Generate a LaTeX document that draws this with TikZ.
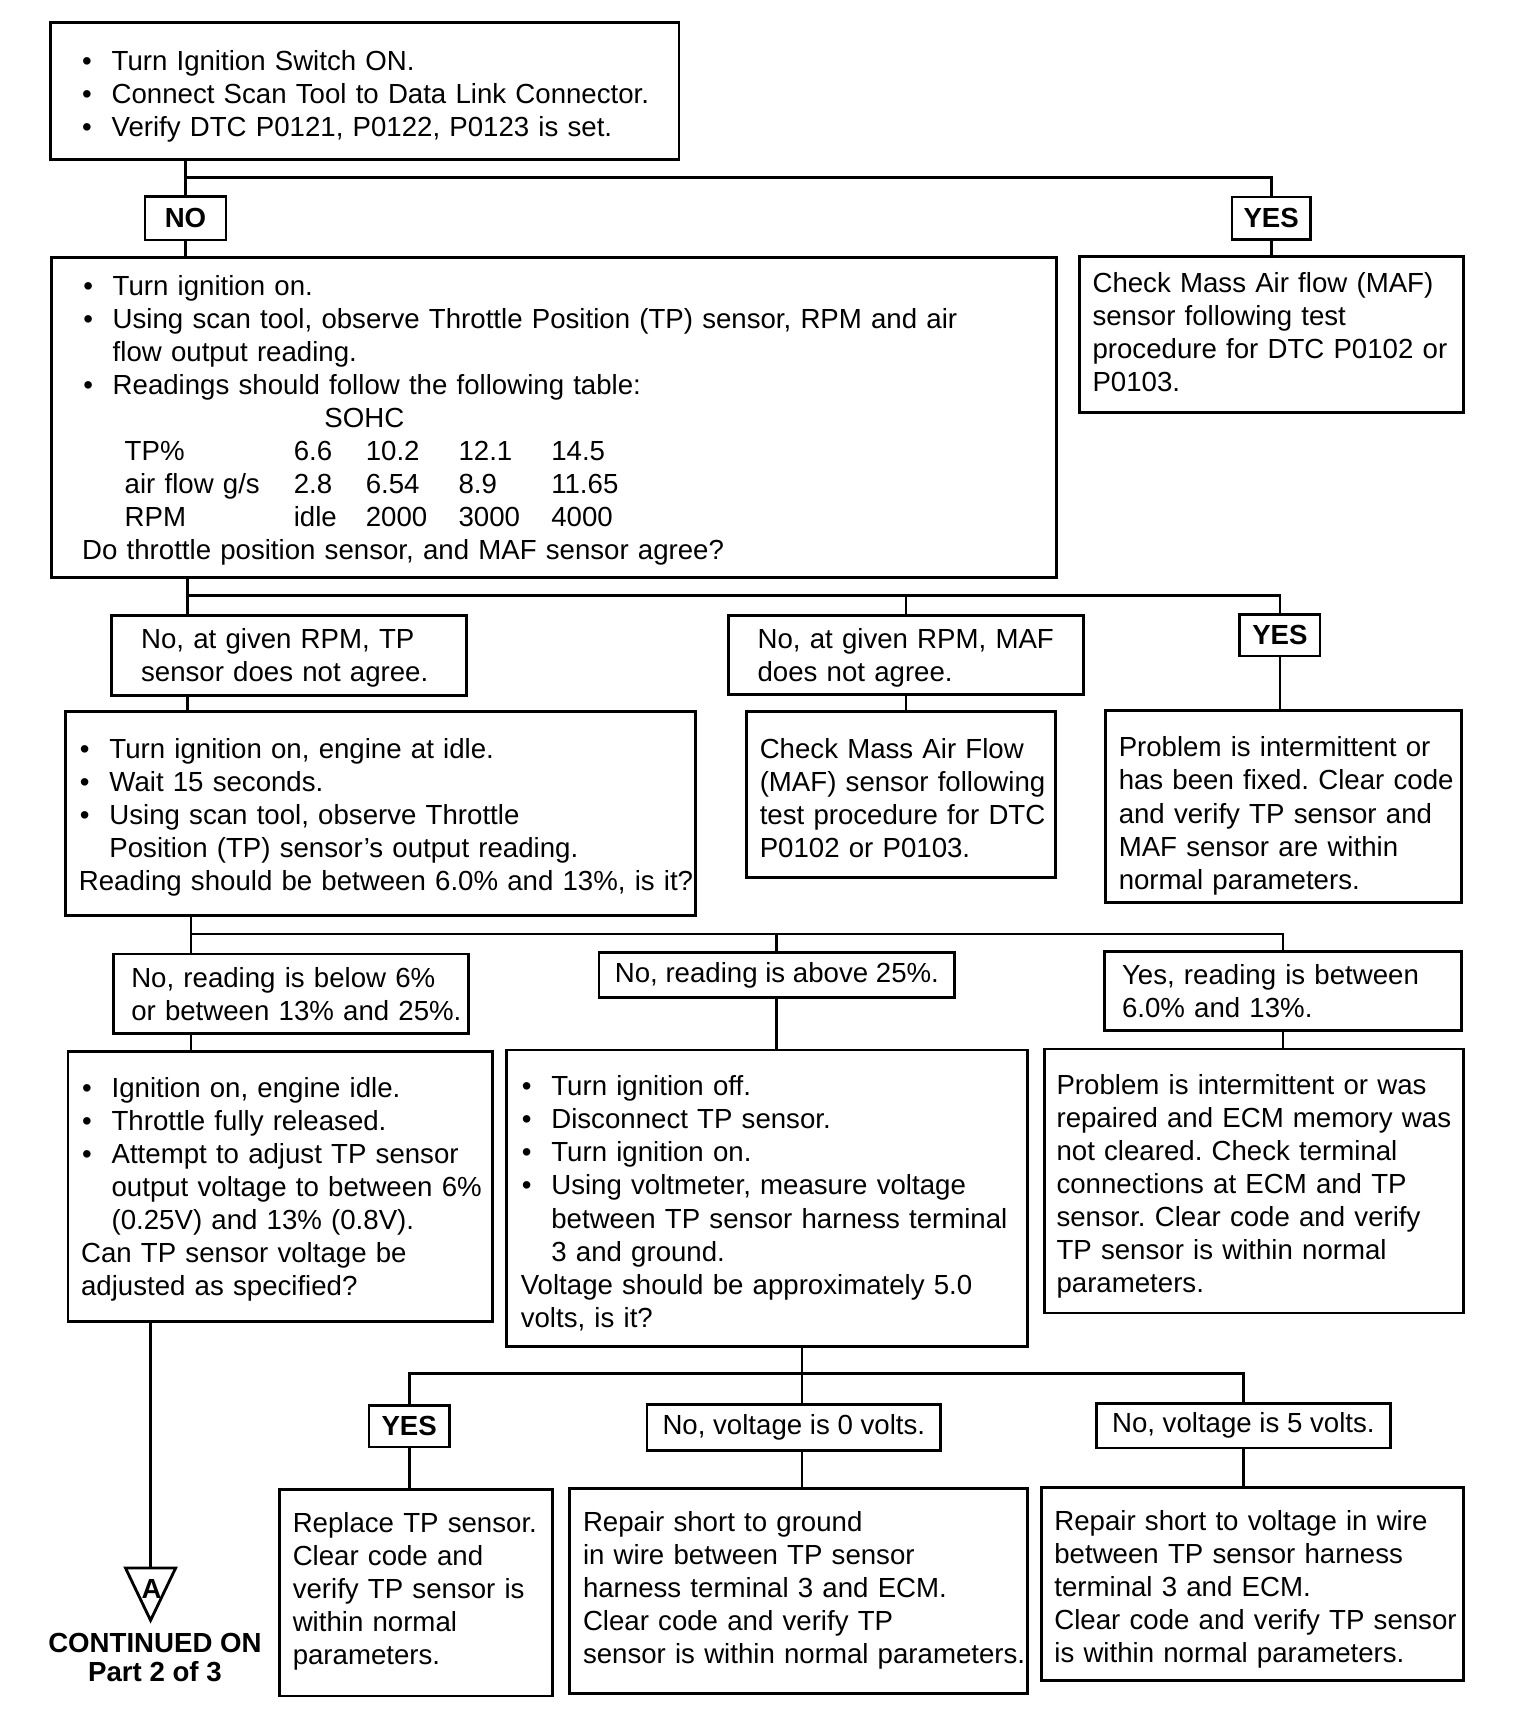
\documentclass[tikz,border=0pt]{standalone}
\usepackage{fontspec}
\setmainfont{Liberation Sans}
\frenchspacing
\newcommand\chartfont{\fontsize{12.66}{15.15}\selectfont}
\newcommand\itm{\makebox[14pt][l]{\hspace{0.5pt}\textbullet}}
\newcommand\padded[3][0pt]{\parindent=0pt\leftskip=#2\rightskip=-30pt plus 1fil\relax
  \ifdim#1>0pt \edef\toph{\the\dimexpr12pt+#1\relax}\def\botd{3pt}%
  \else\def\toph{12pt}\edef\botd{\the\dimexpr3pt-#1\relax}\fi
  \rule{0pt}{\toph}#3\rule[-\botd]{0pt}{\botd}\par}
\newcommand\tprow[5]{\hspace*{19.5pt}\makebox[77.5pt][l]{#1}\makebox[33pt][l]{#2}\makebox[42.5pt][l]{#3}\makebox[42.5pt][l]{#4}#5}
\tikzset{
  box/.style={draw, line width=1.3pt, anchor=north west, inner sep=0pt, align=left, font=\chartfont},
  tag/.style={draw, line width=1.1pt, inner sep=0pt, font=\chartfont\bfseries},
  plain/.style={draw, line width=1.3pt, inner sep=0pt, font=\chartfont},
  link/.style={line width=1.3pt},
}
\begin{document}
\begin{tikzpicture}[x=0.5pt, y=-0.5pt]
      \useasboundingbox (0,0) rectangle (1407.5,1569);
      \node[box, text width=288pt, minimum height=63pt] (start) at (45,19)
        {\padded[2.5pt]{14pt}{\itm Turn Ignition Switch ON.\\
         \itm Connect Scan Tool to Data Link Connector.\\
         \itm Verify DTC P0121, P0122, P0123 is set.}};
      \node[tag, minimum width=37pt, minimum height=20pt] (no1) at (170,200) {NO};
      \node[tag, minimum width=36pt, minimum height=19.5pt] (yes1) at (1165,200) {YES};
      \node[box, text width=460.5pt, minimum height=146.5pt] (tpbox) at (46,235)
        {\padded{14pt}{\itm Turn ignition on.\\
         \itm Using scan tool, observe Throttle Position (TP) sensor, RPM and air\\
         \hspace*{14pt}flow output reading.\\
         \itm Readings should follow the following table:\\
         \hspace*{111pt}SOHC\\
         \tprow{TP\%}{6.6}{10.2}{12.1}{14.5}\\
         \tprow{air flow g/s}{2.8}{6.54}{8.9}{11.65}\\
         \tprow{RPM}{idle}{2000}{3000}{4000}\\
         Do throttle position sensor, and MAF sensor agree?}};
      \node[box, text width=176pt, minimum height=71.5pt] (maf1) at (988,234)
        {\padded[-2pt]{6pt}{Check Mass Air flow (MAF)\\
         sensor following test\\
         procedure for DTC P0102 or\\
         P0103.}};
      \node[box, text width=162.5pt, minimum height=36.5pt] (lblTP) at (101,563)
        {\padded{13.5pt}{No, at given RPM, TP\\
         sensor does not agree.}};
      \node[box, text width=163pt, minimum height=36pt] (lblMAF) at (666,563)
        {\padded{13.5pt}{No, at given RPM, MAF\\
         does not agree.}};
      \node[tag, minimum width=37pt, minimum height=19pt] (yes2) at (1173,582) {YES};
      \node[box, text width=288.5pt, minimum height=93.5pt] (readbox) at (59,651)
        {\padded[1pt]{6pt}{\itm Turn ignition on, engine at idle.\\
         \itm Wait 15 seconds.\\
         \itm Using scan tool, observe Throttle\\
         \hspace*{14pt}Position (TP) sensor's output reading.\\
         Reading should be between 6.0\% and 13\%, is it?}};
      \node[box, text width=141.5pt, minimum height=76pt] (maf2) at (683,651)
        {\padded[3pt]{6pt}{Check Mass Air Flow\\
         (MAF) sensor following\\
         test procedure for DTC\\
         P0102 or P0103.}};
      \node[box, text width=163pt, minimum height=88pt] (int1) at (1012,650)
        {\padded[6pt]{6pt}{Problem is intermittent or\\
         has been fixed. Clear code\\
         and verify TP sensor and\\
         MAF sensor are within\\
         normal parameters.}};
      \node[box, text width=162.5pt, minimum height=36.5pt] (lblLow) at (103,873)
        {\padded{8pt}{No, reading is below 6\%\\
         or between 13\% and 25\%.}};
      \node[plain, minimum width=163pt, minimum height=20.5pt] (lblHigh) at (712,893.5)
        {\raisebox{-2pt}{No, reading is above 25\%.}};
      \node[box, text width=163.5pt, minimum height=36pt] (lblYes) at (1011,871)
        {\padded{8pt}{Yes, reading is between\\
         6.0\% and 13\%.}};
      \node[box, text width=194.5pt, minimum height=124pt] (adjbox) at (61,962)
        {\padded{6pt}{\itm Ignition on, engine idle.\\
         \itm Throttle fully released.\\
         \itm Attempt to adjust TP sensor\\
         \hspace*{14pt}output voltage to between 6\%\\
         \hspace*{14pt}(0.25V) and 13\% (0.8V).\\
         Can TP sensor voltage be\\
         adjusted as specified?}};
      \node[box, text width=238.5pt, minimum height=136pt] (voltbox) at (463,961)
        {\padded[3pt]{6.5pt}{\itm Turn ignition off.\\
         \itm Disconnect TP sensor.\\
         \itm Turn ignition on.\\
         \itm Using voltmeter, measure voltage\\
         \hspace*{14pt}between TP sensor harness terminal\\
         \hspace*{14pt}3 and ground.\\
         Voltage should be approximately 5.0\\
         volts, is it?}};
      \node[box, text width=192pt, minimum height=121pt] (int2) at (956,960)
        {\padded[2.5pt]{5.5pt}{Problem is intermittent or was\\
         repaired and ECM memory was\\
         not cleared. Check terminal\\
         connections at ECM and TP\\
         sensor. Clear code and verify\\
         TP sensor is within normal\\
         parameters.}};
      \node[tag, minimum width=37pt, minimum height=19pt] (yes3) at (375,1307) {YES};
      \node[plain, minimum width=134.5pt, minimum height=21pt] (lbl0v) at (727.5,1308)
        {No, voltage is 0 volts.};
      \node[plain, minimum width=134.5pt, minimum height=20.5pt] (lbl5v) at (1139.5,1306.5)
        {No, voltage is 5 volts.};
      \node[box, text width=125pt, minimum height=94.5pt] (repbox) at (255,1364)
        {\padded[-4pt]{6pt}{Replace TP sensor.\\
         Clear code and\\
         verify TP sensor is\\
         within normal\\
         parameters.}};
      \node[box, text width=209.5pt, minimum height=94pt] (gndbox) at (521,1363)
        {\padded[-3.5pt]{6pt}{Repair short to ground\\
         in wire between TP sensor\\
         harness terminal 3 and ECM.\\
         Clear code and verify TP\\
         sensor is within normal parameters.}};
      \node[box, text width=193.5pt, minimum height=88.5pt] (vrepbox) at (953,1362)
        {\padded[2pt]{6pt}{Repair short to voltage in wire\\
         between TP sensor harness\\
         terminal 3 and ECM.\\
         Clear code and verify TP sensor\\
         is within normal parameters.}};
      \coordinate (j1) at (170,163);
      \coordinate (j2) at (172,546);
      \coordinate (j3) at (175,856);
      \coordinate (j4) at (735,1259);
      \coordinate (jA) at (138,1437);
      \node[font=\chartfont\bfseries, inner sep=0pt] (markA) at (139,1456) {A};
      \node[font=\fontsize{12.66}{13.5}\selectfont\bfseries, align=center, inner sep=0pt] (cont) at (142,1519)
        {CONTINUED ON\\Part 2 of 3};
      \begin{scope}[link]
        \draw (start.south -| j1) -- (no1.north);
        \draw (j1) -| (yes1.north);
        \draw (no1.south) -- (no1.south |- tpbox.north);
        \draw (yes1.south) -- (yes1.south |- maf1.north);
        \draw (tpbox.south -| j2) -- (lblTP.north -| j2);
        \draw (j2) -| (yes2.north);
        \draw (lblMAF.north) -- (lblMAF.north |- j2);
        \draw (lblTP.south -| j2) -- (readbox.north -| j2);
        \draw (lblMAF.south) -- (lblMAF.south |- maf2.north);
        \draw (yes2.south) -- (yes2.south |- int1.north);
        \draw (readbox.south -| j3) -- (lblLow.north -| j3);
        \draw (j3) -| (lblYes.north);
        \draw (lblHigh.north) -- (lblHigh.north |- j3);
        \draw (lblLow.south -| j3) -- (adjbox.north -| j3);
        \draw (lblHigh.south) -- (lblHigh.south |- voltbox.north);
        \draw (lblYes.south) -- (lblYes.south |- int2.north);
        \draw (adjbox.south -| jA) -- (jA);
        \draw (jA) ++(-23,0) -- ++(46,0) -- ++(-23,48) -- cycle;
        \draw (voltbox.south -| j4) -- (j4);
        \draw (yes3.north) |- (j4) -| (lbl5v.north);
        \draw (j4) -- (lbl0v.north -| j4);
        \draw (yes3.south) -- (yes3.south |- repbox.north);
        \draw (lbl0v.south -| j4) -- (gndbox.north -| j4);
        \draw (lbl5v.south) -- (lbl5v.south |- vrepbox.north);
      \end{scope}
    \end{tikzpicture}
\end{document}
